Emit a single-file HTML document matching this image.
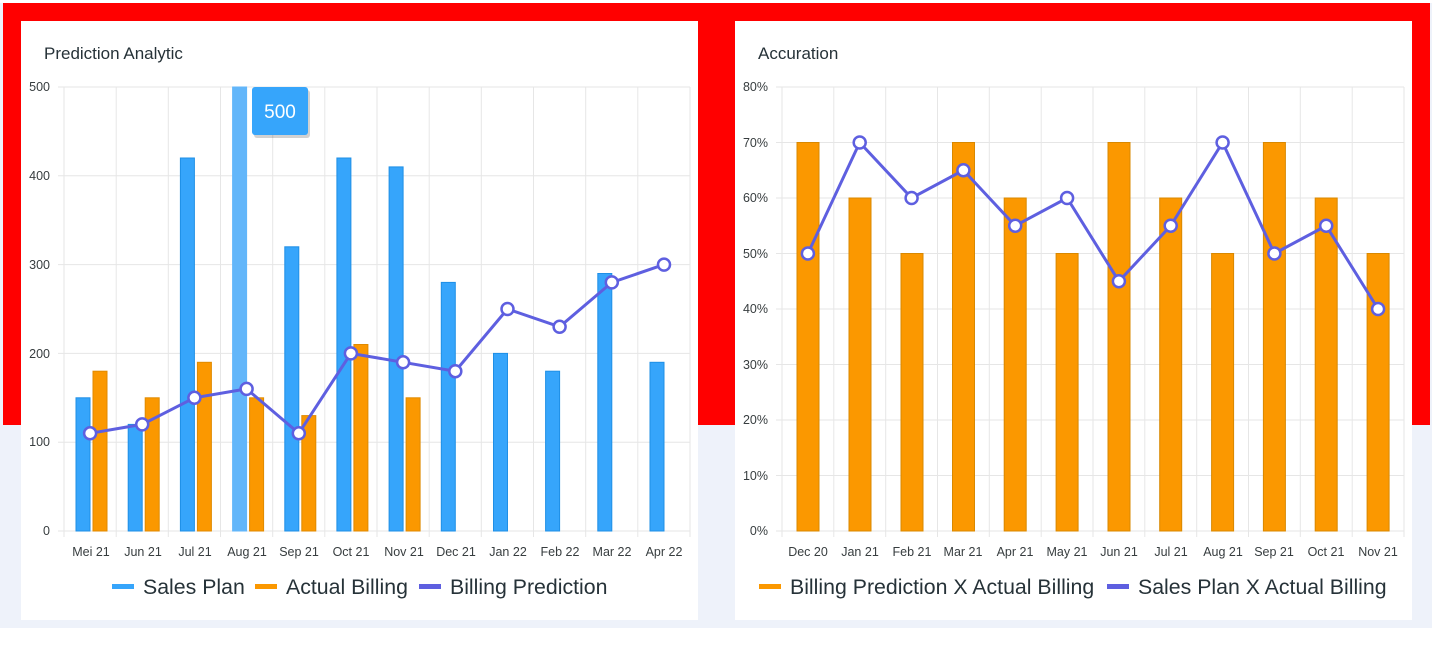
<!DOCTYPE html><html><head><style>body{margin:0;width:1432px;height:648px;background:#fff;overflow:hidden;font-family:"Liberation Sans",Arial,sans-serif}</style></head><body>
<svg width="1432" height="648" xmlns="http://www.w3.org/2000/svg" font-family="Liberation Sans, Arial, sans-serif">
<rect x="0" y="3" width="1432" height="625" fill="#eef2fa"/>
<rect x="3" y="3" width="1427" height="422" fill="#ff0000"/>
<rect x="21" y="21" width="677" height="599" fill="#fff"/>
<rect x="735" y="21" width="677" height="599" fill="#fff"/>
<text x="44" y="59" font-size="17" fill="#263238">Prediction Analytic</text>
<text x="758" y="59" font-size="17" fill="#263238">Accuration</text>
<g stroke="#e6e6e6" stroke-width="1">
<line x1="58" x2="690" y1="87" y2="87"/><line x1="58" x2="690" y1="175.8" y2="175.8"/><line x1="58" x2="690" y1="264.6" y2="264.6"/><line x1="58" x2="690" y1="353.4" y2="353.4"/><line x1="58" x2="690" y1="442.2" y2="442.2"/><line x1="58" x2="690" y1="531" y2="531"/>
<line x1="64" x2="64" y1="87" y2="537"/><line x1="116.2" x2="116.2" y1="87" y2="537"/><line x1="168.3" x2="168.3" y1="87" y2="537"/><line x1="220.5" x2="220.5" y1="87" y2="537"/><line x1="272.7" x2="272.7" y1="87" y2="537"/><line x1="324.8" x2="324.8" y1="87" y2="537"/><line x1="377" x2="377" y1="87" y2="537"/><line x1="429.2" x2="429.2" y1="87" y2="537"/><line x1="481.3" x2="481.3" y1="87" y2="537"/><line x1="533.5" x2="533.5" y1="87" y2="537"/><line x1="585.7" x2="585.7" y1="87" y2="537"/><line x1="637.8" x2="637.8" y1="87" y2="537"/><line x1="690" x2="690" y1="87" y2="537"/>
</g>
<g font-size="12.5" fill="#373d3f" text-anchor="end">
<text x="50" y="535">0</text><text x="50" y="446">100</text><text x="50" y="358">200</text><text x="50" y="269">300</text><text x="50" y="180">400</text><text x="50" y="91">500</text></g>
<g font-size="12.5" fill="#373d3f" text-anchor="middle">
<text x="91" y="556">Mei 21</text><text x="143" y="556">Jun 21</text><text x="195" y="556">Jul 21</text><text x="247" y="556">Aug 21</text><text x="299" y="556">Sep 21</text><text x="351" y="556">Oct 21</text><text x="404" y="556">Nov 21</text><text x="456" y="556">Dec 21</text><text x="508" y="556">Jan 22</text><text x="560" y="556">Feb 22</text><text x="612" y="556">Mar 22</text><text x="664" y="556">Apr 22</text></g>
<g fill="#36a5fb" stroke="#1f8fe6" stroke-width="1">
<rect x="76" y="397.8" width="14" height="133.2"/><rect x="128.2" y="424.4" width="14" height="106.6"/><rect x="180.4" y="158" width="14" height="373"/><rect x="232.6" y="87" width="14" height="444" fill="#62b6fa" stroke="#62b6fa"/><rect x="284.8" y="246.8" width="14" height="284.2"/><rect x="336.9" y="158" width="14" height="373"/><rect x="389.1" y="166.9" width="14" height="364.1"/><rect x="441.3" y="282.4" width="14" height="248.6"/><rect x="493.5" y="353.4" width="14" height="177.6"/><rect x="545.6" y="371.2" width="14" height="159.8"/><rect x="597.8" y="273.5" width="14" height="257.5"/><rect x="650" y="362.3" width="14" height="168.7"/></g>
<g fill="#fb9800" stroke="#e08a00" stroke-width="1">
<rect x="93" y="371.2" width="14" height="159.8"/><rect x="145.2" y="397.8" width="14" height="133.2"/><rect x="197.4" y="362.3" width="14" height="168.7"/><rect x="249.6" y="397.8" width="14" height="133.2"/><rect x="301.8" y="415.6" width="14" height="115.4"/><rect x="353.9" y="344.5" width="14" height="186.5"/><rect x="406.1" y="397.8" width="14" height="133.2"/></g>
<polyline fill="none" stroke="#5e5fe0" stroke-width="3" points="90.1,433.3 142.2,424.4 194.4,397.8 246.6,388.9 298.8,433.3 350.9,353.4 403.1,362.3 455.3,371.2 507.5,309 559.6,326.8 611.8,282.4 664,264.6"/>
<g fill="#fff" stroke="#5e5fe0" stroke-width="2.5">
<circle cx="90.1" cy="433.3" r="6"/><circle cx="142.2" cy="424.4" r="6"/><circle cx="194.4" cy="397.8" r="6"/><circle cx="246.6" cy="388.9" r="6"/><circle cx="298.8" cy="433.3" r="6"/><circle cx="350.9" cy="353.4" r="6"/><circle cx="403.1" cy="362.3" r="6"/><circle cx="455.3" cy="371.2" r="6"/><circle cx="507.5" cy="309" r="6"/><circle cx="559.6" cy="326.8" r="6"/><circle cx="611.8" cy="282.4" r="6"/><circle cx="664" cy="264.6" r="6"/></g>
<rect x="254" y="90" width="56" height="48" rx="3" fill="#000" opacity="0.18"/>
<rect x="252" y="87" width="56" height="48" rx="3" fill="#36a5fb"/>
<text x="280" y="118" font-size="19" fill="#fff" text-anchor="middle">500</text>
<g font-size="21.3" fill="#263238">
<rect x="112" y="584" width="22" height="5" fill="#36a5fb"/><text x="143" y="594">Sales Plan</text>
<rect x="255" y="584" width="22" height="5" fill="#fb9800"/><text x="286" y="594">Actual Billing</text>
<rect x="419" y="584" width="22" height="5" fill="#5e5fe0"/><text x="450" y="594">Billing Prediction</text>
</g>
<g stroke="#e6e6e6" stroke-width="1">
<line x1="776" x2="1404" y1="87" y2="87"/><line x1="776" x2="1404" y1="142.5" y2="142.5"/><line x1="776" x2="1404" y1="198" y2="198"/><line x1="776" x2="1404" y1="253.5" y2="253.5"/><line x1="776" x2="1404" y1="309" y2="309"/><line x1="776" x2="1404" y1="364.5" y2="364.5"/><line x1="776" x2="1404" y1="420" y2="420"/><line x1="776" x2="1404" y1="475.5" y2="475.5"/><line x1="776" x2="1404" y1="531" y2="531"/>
<line x1="782" x2="782" y1="87" y2="537"/><line x1="833.8" x2="833.8" y1="87" y2="537"/><line x1="885.7" x2="885.7" y1="87" y2="537"/><line x1="937.5" x2="937.5" y1="87" y2="537"/><line x1="989.3" x2="989.3" y1="87" y2="537"/><line x1="1041.2" x2="1041.2" y1="87" y2="537"/><line x1="1093" x2="1093" y1="87" y2="537"/><line x1="1144.8" x2="1144.8" y1="87" y2="537"/><line x1="1196.7" x2="1196.7" y1="87" y2="537"/><line x1="1248.5" x2="1248.5" y1="87" y2="537"/><line x1="1300.3" x2="1300.3" y1="87" y2="537"/><line x1="1352.2" x2="1352.2" y1="87" y2="537"/><line x1="1404" x2="1404" y1="87" y2="537"/>
</g>
<g font-size="12.5" fill="#373d3f" text-anchor="end">
<text x="768" y="535">0%</text><text x="768" y="480">10%</text><text x="768" y="424">20%</text><text x="768" y="369">30%</text><text x="768" y="313">40%</text><text x="768" y="258">50%</text><text x="768" y="202">60%</text><text x="768" y="147">70%</text><text x="768" y="91">80%</text></g>
<g font-size="12.5" fill="#373d3f" text-anchor="middle">
<text x="808" y="556">Dec 20</text><text x="860" y="556">Jan 21</text><text x="912" y="556">Feb 21</text><text x="963" y="556">Mar 21</text><text x="1015" y="556">Apr 21</text><text x="1067" y="556">May 21</text><text x="1119" y="556">Jun 21</text><text x="1171" y="556">Jul 21</text><text x="1223" y="556">Aug 21</text><text x="1274" y="556">Sep 21</text><text x="1326" y="556">Oct 21</text><text x="1378" y="556">Nov 21</text></g>
<g fill="#fb9800" stroke="#d98800" stroke-width="1">
<rect x="797" y="142.5" width="22" height="388.5"/><rect x="849" y="198" width="22" height="333"/><rect x="901" y="253.5" width="22" height="277.5"/><rect x="952.5" y="142.5" width="22" height="388.5"/><rect x="1004.2" y="198" width="22" height="333"/><rect x="1056.1" y="253.5" width="22" height="277.5"/><rect x="1108" y="142.5" width="22" height="388.5"/><rect x="1159.7" y="198" width="22" height="333"/><rect x="1211.6" y="253.5" width="22" height="277.5"/><rect x="1263.4" y="142.5" width="22" height="388.5"/><rect x="1315.2" y="198" width="22" height="333"/><rect x="1367.1" y="253.5" width="22" height="277.5"/></g>
<polyline fill="none" stroke="#5e5fe0" stroke-width="3" points="807.9,253.5 859.7,142.5 911.6,198 963.4,170.25 1015.2,225.75 1067.1,198 1118.9,281.25 1170.7,225.75 1222.6,142.5 1274.4,253.5 1326.2,225.75 1378.1,309"/>
<g fill="#fff" stroke="#5e5fe0" stroke-width="2.5">
<circle cx="807.9" cy="253.5" r="6"/><circle cx="859.7" cy="142.5" r="6"/><circle cx="911.6" cy="198" r="6"/><circle cx="963.4" cy="170.25" r="6"/><circle cx="1015.2" cy="225.75" r="6"/><circle cx="1067.1" cy="198" r="6"/><circle cx="1118.9" cy="281.25" r="6"/><circle cx="1170.7" cy="225.75" r="6"/><circle cx="1222.6" cy="142.5" r="6"/><circle cx="1274.4" cy="253.5" r="6"/><circle cx="1326.2" cy="225.75" r="6"/><circle cx="1378.1" cy="309" r="6"/></g>
<g font-size="21.3" fill="#263238">
<rect x="759" y="584" width="22" height="5" fill="#fb9800"/><text x="790" y="594">Billing Prediction X Actual Billing</text>
<rect x="1107" y="584" width="22" height="5" fill="#5e5fe0"/><text x="1138" y="594">Sales Plan X Actual Billing</text>
</g>
</svg></body></html>
